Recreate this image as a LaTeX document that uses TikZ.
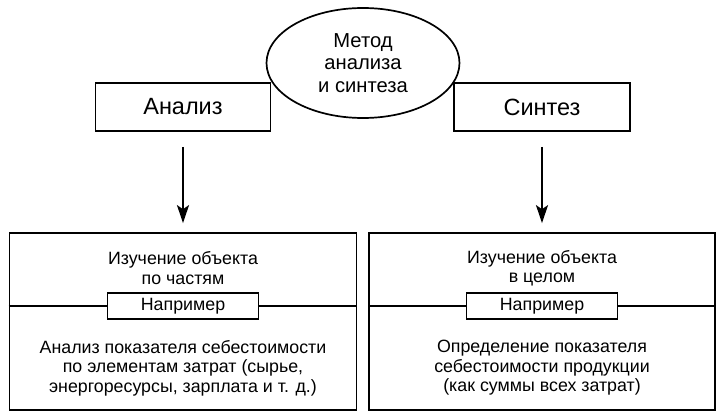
\documentclass[tikz,border=0pt]{standalone}
\usepackage{fontspec}
\setmainfont{Liberation Sans}
\usepackage{tikz}
\usetikzlibrary{arrows.meta}
\usetikzlibrary{shapes,positioning}
\tikzset{>={Stealth[length=18pt,width=12pt,inset=4pt]},
  box/.style={draw,rectangle,inner sep=0pt},
  txt/.style={align=center,font=\fontsize{17.8}{19.5}\selectfont}}

\begin{document}
\begin{tikzpicture}[x=1pt,y=-1pt,line width=1.7pt]
  \useasboundingbox (0,0) rectangle (726,414);

  \node [box,minimum width=175pt,minimum height=48pt,font=\fontsize{23.5}{26}\selectfont] (analiz) at (183,107) {Анализ};
  \node [box,minimum width=176pt,minimum height=48pt,font=\fontsize{23.5}{26}\selectfont] (sintez) at (542,107) {Синтез};
  \node [draw,ellipse,fill=white,minimum width=193pt,minimum height=110pt,inner sep=0pt,align=center,font=\fontsize{20.2}{22.5}\selectfont] (metod) at (363,63) {Метод\\анализа\\и синтеза};

  \node [box,minimum width=347pt,minimum height=177pt] (chasti) at (183,321.5) {};
  \node [box,minimum width=346pt,minimum height=177pt] (celoe) at (542,321.5) {};

  \draw [->,shorten <=15pt,shorten >=9pt] (analiz) -- (chasti);
  \draw [->,shorten <=15pt,shorten >=9pt] (sintez) -- (celoe);

  \node [txt] (chastiTop) at (183,268) {Изучение объекта\\по частям};
  \node [txt] (celoeTop) at (542,268) {Изучение объекта\\в целом};

  \node [box,minimum width=151pt,minimum height=26pt,txt] (primer1) at (183,306) {Например};
  \node [box,minimum width=151pt,minimum height=26pt,txt] (primer2) at (542,306) {Например};
  \draw (chasti.west |- primer1) -- (primer1.west);
  \draw (primer1.east) -- (chasti.east |- primer1);
  \draw (celoe.west |- primer2) -- (primer2.west);
  \draw (primer2.east) -- (celoe.east |- primer2);

  \node [txt] (chastiBot) at (183,368) {Анализ показателя себестоимости\\по элементам затрат (сырье,\\энергоресурсы, зарплата и т. д.)};
  \node [txt] (celoeBot) at (542,368) {Определение показателя\\себестоимости продукции\\(как суммы всех затрат)};

\end{tikzpicture}
\end{document}
